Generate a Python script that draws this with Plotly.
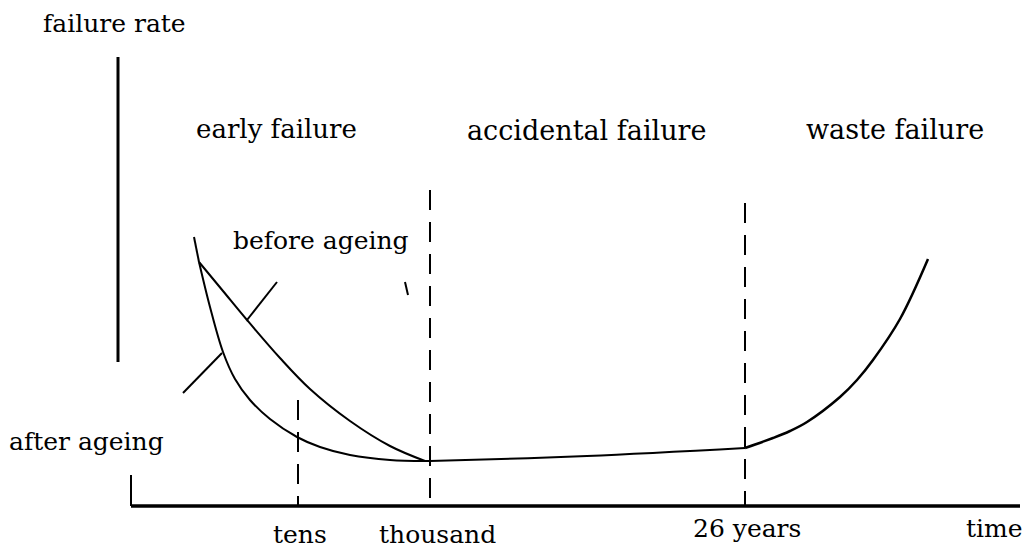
import plotly.graph_objects as go

# Diagram coordinates (x to the right, y downward)
stem_x = [194, 199]
stem_y = [237, 262]

before_x = [199, 223, 247, 280, 310, 350, 390, 425]
before_y = [262, 291, 320, 358, 389, 421, 446, 461]

after_x = [199, 210, 223, 235, 250, 270, 297, 320, 350, 390, 425]
after_y = [262, 307, 352, 379, 400, 419, 437, 447, 455, 460, 461]

flat_x = [420, 430, 587, 745]
flat_y = [461, 461, 456, 448]

wear_x = [745, 773, 790, 807, 840, 857, 873, 900, 928]
wear_y = [448, 438, 431, 422, 397, 380, 360, 319, 259]

ptr_before_x = [247, 277]
ptr_before_y = [320, 282]
ptr_after_x = [222, 183]
ptr_after_y = [353, 393]

# dashed markers: (x, y_top, y_bottom)
marker_names = ["tens", "thousand", "26 years"]
marker_x = [298, 430, 745]
marker_top = [400, 190, 203]
marker_bottom = [505, 505, 505]

stray_x = [405, 408]
stray_y = [282, 295]

axis_x_x = [131, 1020]
axis_x_y = [506, 506]
axis_tick_x = [131, 131]
axis_tick_y = [475, 506]
axis_y_x = [118, 118]
axis_y_y = [57, 362]

region_labels = ["early failure", "accidental failure", "waste failure"]
region_x = [276, 586, 895]
region_y = [129, 130, 129]
region_size = [26, 27, 27]

tick_labels = ["tens", "thousand", "26 years", "time"]
tick_x = [300, 437, 747, 994]
tick_y = [534, 534, 528, 528]

fig = go.Figure()

def line(xs, ys, width=2, dash=None):
    fig.add_trace(go.Scatter(
        x=xs, y=ys, mode="lines",
        line=dict(color="black", width=width, dash=dash,
                  shape="spline" if len(xs) > 2 else "linear", smoothing=1.0),
        hoverinfo="skip", showlegend=False))

line(stem_x, stem_y)
line(before_x, before_y)
line(after_x, after_y)
line(flat_x, flat_y)
line(wear_x, wear_y, width=2.5)
line(ptr_before_x, ptr_before_y)
line(ptr_after_x, ptr_after_y)
for mx, t, b in zip(marker_x, marker_top, marker_bottom):
    line([mx, mx], [t, b], width=2, dash="20px,12px")
line(stray_x, stray_y, width=2)
line(axis_x_x, axis_x_y, width=3.5)
line(axis_tick_x, axis_tick_y, width=2)
line(axis_y_x, axis_y_y, width=3)

def label(text, x, y, size=25):
    fig.add_annotation(x=x, y=y, text=text, showarrow=False,
                       font=dict(family="DejaVu Serif", size=size, color="black"),
                       xanchor="center", yanchor="middle")

label("failure rate", 114, 23)
for t, x, y, s in zip(region_labels, region_x, region_y, region_size):
    label(t, x, y, s)
label("before ageing", 321, 240)
label("after ageing", 86, 441)
for t, x, y in zip(tick_labels, tick_x, tick_y):
    label(t, x, y)

# page body has an 8px margin: shift ranges so data units equal page pixels
fig.update_layout(
    width=1032, height=549,
    margin=dict(l=0, r=0, t=0, b=0),
    paper_bgcolor="white", plot_bgcolor="white",
    xaxis=dict(range=[8, 1040], visible=False, fixedrange=True),
    yaxis=dict(range=[557, 8], visible=False, fixedrange=True),
)

fig.write_html("out.html")
